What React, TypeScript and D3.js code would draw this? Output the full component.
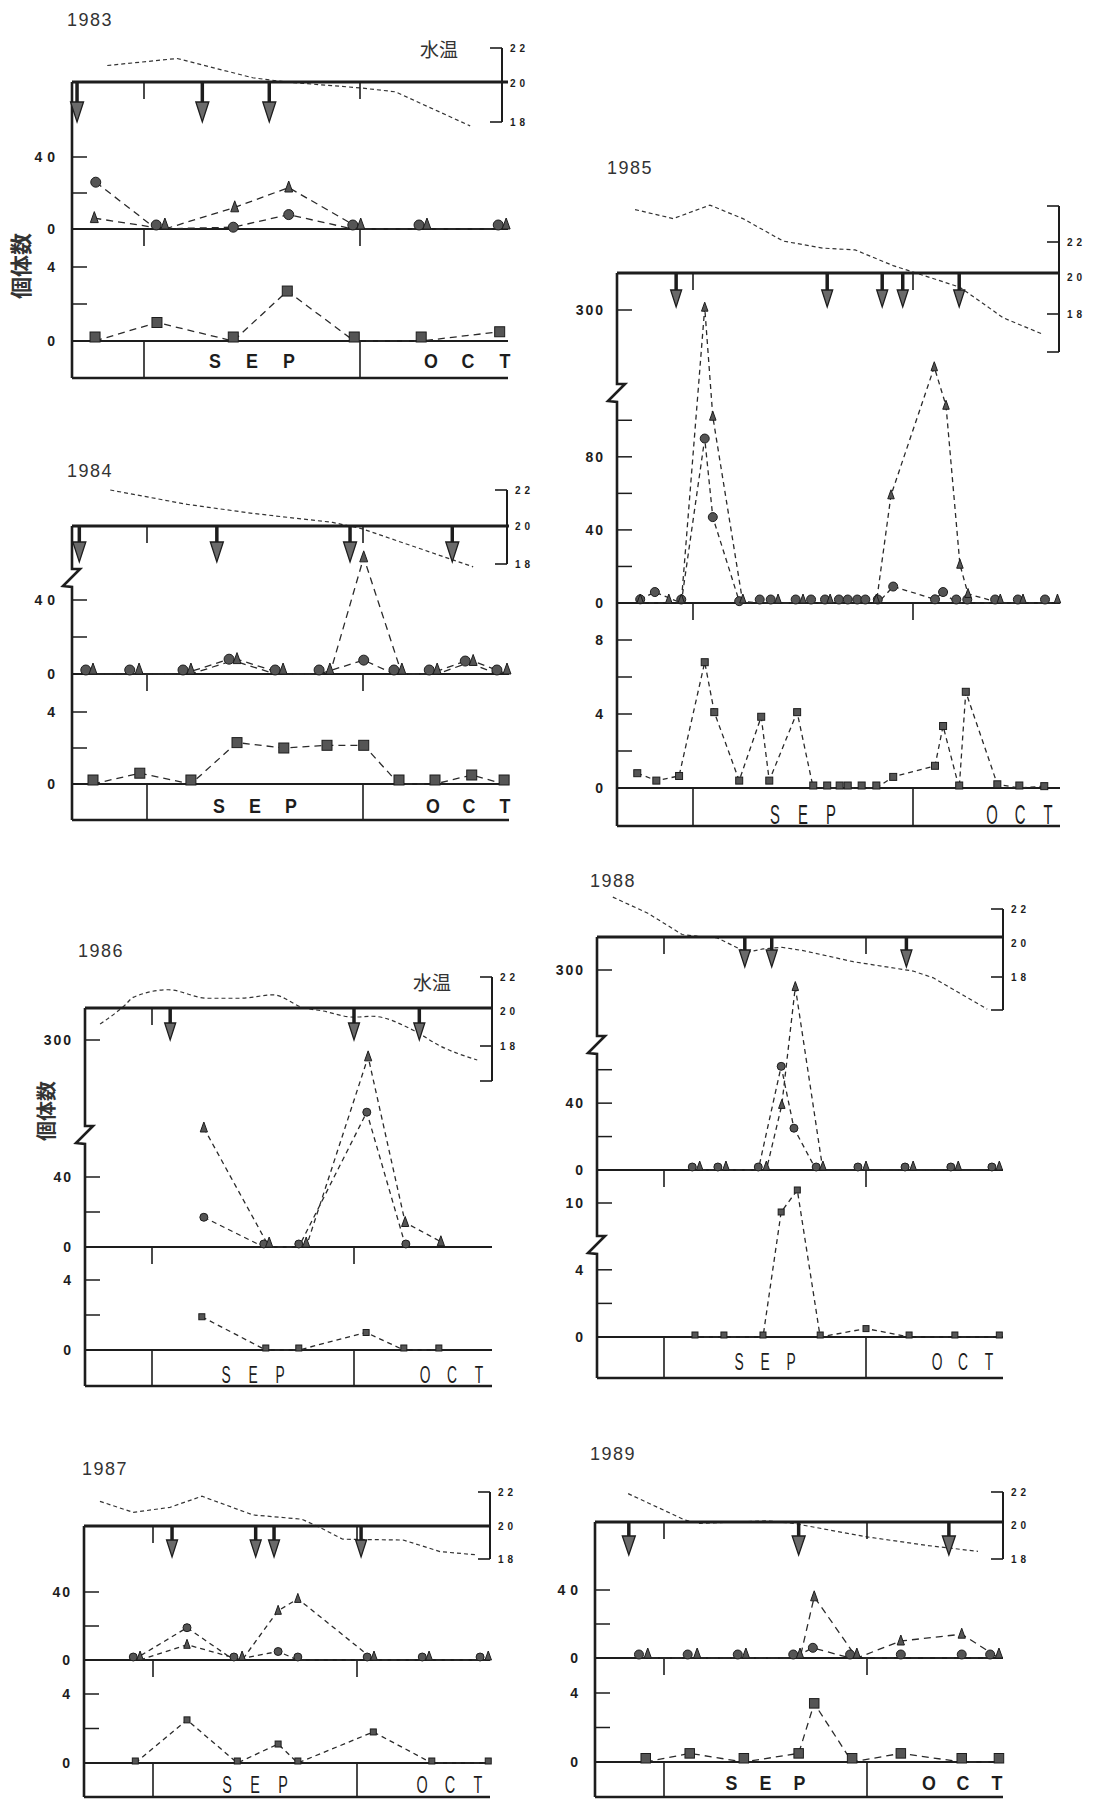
import React from "react";
import * as d3 from "d3";

type Pt = [number, number];

// Shared labels
const MONTHS = ["SEP", "OCT"];
const TEMP_LABELS = [22, 20, 18];
const COUNT_LABEL = "個体数";
const WATER_LABEL = "水温";

// Days are counted from 1 September (0) ; 30 = 1 October.

// ---------- 1983 ----------
const temp83Days = [-5.1, 4.6, 15.1, 19.9, 30, 34.9, 45.3];
const temp83 = [21.0, 21.4, 20.3, 20.05, 19.75, 19.55, 17.8];
const arrows83 = [-9.3, 8.1, 17.4];
const circleDays83 = [-6.7, 1.7, 12.4, 20.1, 29, 38.2, 49.2];
const circles83 = [26, 0, 1, 8, 0, 0, 0];
const triangleDays83 = [-6.9, 2.9, 12.6, 20.1, 30.1, 39.3, 50.3];
const triangles83 = [6, 0, 12, 23, 0, 0, 0];
const squareDays83 = [-6.8, 1.8, 12.4, 19.9, 29.2, 38.5, 49.4];
const squares83 = [0, 1, 0, 2.7, 0, 0, 0.5];

// ---------- 1984 ----------
const temp84Days = [-5.1, 5.6, 14.7, 25.8, 29.9, 45.3];
const temp84 = [22, 21.2, 20.7, 20.2, 19.85, 17.85];
const arrows84 = [-9.4, 9.7, 28.2, 42.4];
const circleDays84 = [-8.5, -2.4, 5, 11.4, 17.8, 23.9, 30.1, 34.3, 39.2, 44.2, 48.6];
const circles84 = [0, 0, 0, 8, 0, 0, 7.5, 0, 0, 7, 0];
const triangleDays84 = [-7.5, -1.1, 6.1, 12.5, 18.9, 25.4, 30.1, 35.4, 40.3, 45.3, 50];
const triangles84 = [0, 0, 0, 8, 0, 0, 63, 0, 0, 7, 0];
const squareDays84 = [-7.5, -1, 6.1, 12.5, 19, 25, 30.1, 35, 40, 45.1, 49.6];
const squares84 = [0, 0.6, 0, 2.3, 2.0, 2.15, 2.15, 0, 0, 0.5, 0];

// ---------- 1985 ----------
const temp85Days = [-7.9, -2.7, 2.3, 6.8, 12.3, 17.7, 22.1, 27.3, 30.6, 36.4, 42.3, 47.6];
const temp85 = [23.8, 23.3, 24.05, 23.3, 22.05, 21.65, 21.55, 20.65, 20.2, 19.45, 17.8, 16.95];
const arrows85 = [-2.3, 18.3, 25.8, 28.6, 36.3];
const circleDays85 = [-7.2, -5.2, -1.6, 1.6, 2.7, 6.3, 9.1, 10.6, 14, 16.1, 18, 19.9, 21.1, 22.4, 23.5, 25.2, 27.3, 33, 34.1, 35.9, 37.4, 41.2, 44.3, 48];
const circles85 = [2, 6, 0, 90, 47, 1, 0, 0, 0, 0, 0, 0, 0, 0, 0, 0, 9, 2, 6, 0, 0, 0, 0, 0];
const triangleDays85 = [-7.2, -3.3, -1.6, 1.6, 2.7, 6.8, 11.6, 15, 18.7, 25, 27, 32.9, 34.5, 36.4, 37.5, 41.9, 45, 49.7];
const triangles85 = [0, 0, 0, 305, 102, 0, 0, 0, 0, 0, 59, 182, 108, 21, 5, 0, 0, 0];
const squareDays85 = [-7.6, -5, -1.9, 1.6, 2.9, 6.3, 9.3, 10.4, 14.2, 16.4, 18.3, 20, 21.1, 23, 25, 27.3, 33, 34.1, 36.3, 37.2, 41.5, 44.5, 47.9];
const squares85 = [0.8, 0.4, 0.65, 6.8, 4.1, 0.4, 3.85, 0.4, 4.1, 0, 0, 0, 0, 0, 0, 0.6, 1.2, 3.35, 0, 5.2, 0.2, 0, 0.1];

// ---------- 1986 ----------
const temp86Days = [-7.7, -4, -2.8, 2.4, 8.2, 13.1, 18, 22.4, 25.4, 29.9, 32.7, 38.8, 42.8, 48.3];
const temp86 = [19.25, 20.35, 20.8, 21.25, 20.75, 20.75, 20.95, 20.2, 20, 19.65, 19.7, 18.9, 18, 17.2];
const arrows86 = [2.7, 30, 39.7];
const circleDays86 = [7.7, 16.6, 21.8, 31.9, 37.7];
const circles86 = [17, 0, 0, 163, 0];
const triangleDays86 = [7.7, 17.4, 22.9, 32.1, 37.6, 42.9];
const triangles86 = [133, 0, 0, 268, 14, 3];
const squareDays86 = [7.4, 16.9, 21.8, 31.8, 37.4, 42.6];
const squares86 = [1.9, 0, 0, 1.0, 0, 0];

// ---------- 1987 ----------
const temp87Days = [-7.8, -2.9, 2.5, 7.2, 14.7, 21.9, 24.6, 27.9, 36.8, 42.2, 47.6];
const temp87 = [21.45, 20.8, 21.1, 21.75, 20.65, 20.4, 19.9, 19.2, 19.15, 18.45, 18.25];
const arrows87 = [2.8, 15.1, 17.8, 30.6];
const circleDays87 = [-2.9, 5, 11.9, 18.4, 21.3, 31.5, 39.6, 48.1];
const circles87 = [0, 19, 0, 5, 0, 0, 0, 0];
const triangleDays87 = [-1.9, 5, 13.1, 18.4, 21.3, 32.5, 40.6, 49.3];
const triangles87 = [0, 9, 0, 29, 36, 0, 0, 0];
const squareDays87 = [-2.6, 5, 12.4, 18.4, 21.3, 32.4, 41, 49.3];
const squares87 = [0, 2.5, 0, 1.1, 0, 1.8, 0, 0];

// ---------- 1988 ----------
const temp88Days = [-7.6, -2.4, 2.7, 4.9, 7.9, 12.3, 14.7, 17.5, 20.7, 28.1, 37, 40, 48];
const temp88 = [22.7, 21.75, 20.5, 20.4, 20.3, 19.45, 19.65, 19.75, 19.55, 18.9, 18.35, 17.95, 16.05];
const arrows88 = [12, 16, 36];
const circleDays88 = [4.2, 8, 14, 17.4, 19.3, 22.6, 28.8, 35.8, 42.6, 48.7];
const circles88 = [0, 0, 0, 62, 25, 0, 0, 0, 0, 0];
const triangleDays88 = [5.3, 9.2, 15.2, 17.5, 19.5, 23.6, 30, 37, 43.7, 49.8];
const triangles88 = [0, 0, 0, 39, 253, 0, 0, 0, 0, 0];
const squareDays88 = [4.6, 8.9, 14.7, 17.4, 19.8, 23.2, 30, 36.4, 43.2, 49.8];
const squares88 = [0, 0, 0, 9.1, 11.3, 0, 0.5, 0, 0, 0];

// ---------- 1989 ----------
const temp89Days = [-5.3, 3.1, 5.3, 15.2, 19.1, 30, 38.8, 46.4];
const temp89 = [21.9, 20.3, 20.1, 20.25, 20.1, 19.3, 18.8, 18.45];
const arrows89 = [-5.2, 19.9, 42.1];
const circleDays89 = [-3.7, 3.5, 10.9, 19.1, 22, 27.5, 35, 44, 48.2];
const circles89 = [0, 0, 0, 0, 6, 0, 0, 0, 0];
const triangleDays89 = [-2.4, 4.9, 12.1, 20.1, 22.2, 28.5, 35, 44, 49.5];
const triangles89 = [0, 0, 0, 0, 36, 0, 10, 14, 0];
const squareDays89 = [-2.7, 3.8, 11.8, 19.9, 22.2, 27.8, 35, 44, 49.5];
const squares89 = [0, 0.5, 0, 0.5, 3.4, 0, 0.5, 0, 0];

interface AxisSpec {
  domain: number[];
  range: number[];
  ticks: number[];
  labels: number[];
  breakY?: number;
}

interface PanelSpec {
  year: string;
  titleX: number;
  titleY: number;
  x0: number;
  x1: number;
  sepX: number;
  octX: number;
  topY: number;
  upper: AxisSpec;
  lower: AxisSpec;
  barBottom: number;
  temp: { domain: number[]; range: number[]; lo: number; hi: number; x: number };
  tempDays: number[];
  tempValues: number[];
  smooth?: boolean;
  arrows: number[];
  arrowTip: number;
  headW: number;
  headH: number;
  circleDays: number[];
  circles: number[];
  triangleDays: number[];
  triangles: number[];
  squareDays: number[];
  squares: number[];
  bold: boolean;
  monthSize: number;
  monthScale: number;
  monthSpacing: number;
  monthY: number;
  labelSpacing: number;
  circleR: number;
  squareS: number;
  triH: number;
  dash: string;
  water?: [number, number];
  count?: { x: number; y: number; size: number };
}

const panels: PanelSpec[] = [
  {
    year: "1983", titleX: 67, titleY: 26,
    x0: 72, x1: 508, sepX: 144, octX: 360, topY: 82,
    upper: { domain: [0, 40], range: [229, 157], ticks: [20, 40], labels: [0, 40] },
    lower: { domain: [0, 4], range: [341, 267], ticks: [2, 4], labels: [0, 4] },
    barBottom: 378,
    temp: { domain: [18, 20, 22], range: [122, 83, 48], lo: 18, hi: 22, x: 502 },
    tempDays: temp83Days, tempValues: temp83,
    arrows: arrows83, arrowTip: 122, headW: 13, headH: 20,
    circleDays: circleDays83, circles: circles83,
    triangleDays: triangleDays83, triangles: triangles83,
    squareDays: squareDays83, squares: squares83,
    bold: true, monthSize: 21, monthScale: 0.85, monthSpacing: 37, monthY: 368,
    labelSpacing: 5, circleR: 5, squareS: 10, triH: 11, dash: "7,5",
    water: [420, 57], count: { x: 19, y: 266, size: 22 },
  },
  {
    year: "1984", titleX: 67, titleY: 477,
    x0: 72, x1: 509, sepX: 147, octX: 363, topY: 526,
    upper: { domain: [0, 40], range: [674, 600], ticks: [20, 40], labels: [0, 40], breakY: 578 },
    lower: { domain: [0, 4], range: [784, 712], ticks: [2, 4], labels: [0, 4] },
    barBottom: 820,
    temp: { domain: [18, 20, 22], range: [564, 526, 490], lo: 18, hi: 22, x: 507 },
    tempDays: temp84Days, tempValues: temp84,
    arrows: arrows84, arrowTip: 562, headW: 13, headH: 20,
    circleDays: circleDays84, circles: circles84,
    triangleDays: triangleDays84, triangles: triangles84,
    squareDays: squareDays84, squares: squares84,
    bold: true, monthSize: 21, monthScale: 0.85, monthSpacing: 36, monthY: 813,
    labelSpacing: 5, circleR: 5, squareS: 10, triH: 11, dash: "7,5",
  },
  {
    year: "1985", titleX: 607, titleY: 174,
    x0: 617, x1: 1060, sepX: 693, octX: 913, topY: 273,
    upper: { domain: [0, 110, 300], range: [603, 402, 310], ticks: [20, 40, 60, 80, 100, 300], labels: [0, 40, 80, 300], breakY: 393 },
    lower: { domain: [0, 8], range: [788, 640], ticks: [2, 4, 6, 8], labels: [0, 4, 8] },
    barBottom: 826,
    temp: { domain: [16, 18, 20, 22, 24], range: [352, 314, 277, 242, 206], lo: 16, hi: 24, x: 1059 },
    tempDays: temp85Days, tempValues: temp85,
    arrows: arrows85, arrowTip: 307, headW: 11, headH: 17,
    circleDays: circleDays85, circles: circles85,
    triangleDays: triangleDays85, triangles: triangles85,
    squareDays: squareDays85, squares: squares85,
    bold: false, monthSize: 27, monthScale: 0.55, monthSpacing: 28, monthY: 824,
    labelSpacing: 2, circleR: 4.5, squareS: 7, triH: 9, dash: "5,4",
  },
  {
    year: "1986", titleX: 78, titleY: 957,
    x0: 85, x1: 492, sepX: 152, octX: 354, topY: 1008,
    upper: { domain: [0, 40, 300], range: [1247, 1177, 1040], ticks: [20, 40, 300], labels: [0, 40, 300], breakY: 1135 },
    lower: { domain: [0, 4], range: [1350, 1280], ticks: [2, 4], labels: [0, 4] },
    barBottom: 1386,
    temp: { domain: [16, 18, 20, 22], range: [1081, 1046, 1011, 977], lo: 16, hi: 22, x: 492 },
    tempDays: temp86Days, tempValues: temp86, smooth: true,
    arrows: arrows86, arrowTip: 1040, headW: 11, headH: 17,
    circleDays: circleDays86, circles: circles86,
    triangleDays: triangleDays86, triangles: triangles86,
    squareDays: squareDays86, squares: squares86,
    bold: false, monthSize: 23, monthScale: 0.6, monthSpacing: 27, monthY: 1383,
    labelSpacing: 2, circleR: 4, squareS: 6, triH: 10, dash: "5,4",
    water: [413, 990], count: { x: 45, y: 1111, size: 20 },
  },
  {
    year: "1987", titleX: 82, titleY: 1475,
    x0: 84, x1: 490, sepX: 153, octX: 357, topY: 1526,
    upper: { domain: [0, 40], range: [1660, 1592], ticks: [20, 40], labels: [0, 40] },
    lower: { domain: [0, 4], range: [1763, 1694], ticks: [2, 4], labels: [0, 4] },
    barBottom: 1797,
    temp: { domain: [18, 20, 22], range: [1559, 1526, 1492], lo: 18, hi: 22, x: 490 },
    tempDays: temp87Days, tempValues: temp87,
    arrows: arrows87, arrowTip: 1557, headW: 11, headH: 17,
    circleDays: circleDays87, circles: circles87,
    triangleDays: triangleDays87, triangles: triangles87,
    squareDays: squareDays87, squares: squares87,
    bold: false, monthSize: 24, monthScale: 0.6, monthSpacing: 28, monthY: 1793,
    labelSpacing: 2, circleR: 4, squareS: 6, triH: 9, dash: "5,4",
  },
  {
    year: "1988", titleX: 590, titleY: 887,
    x0: 597, x1: 1003, sepX: 664, octX: 866, topY: 937,
    upper: { domain: [0, 70, 300], range: [1170, 1053, 970], ticks: [20, 40, 60, 300], labels: [0, 40, 300], breakY: 1045 },
    lower: { domain: [0, 5, 10], range: [1337, 1253, 1203], ticks: [2, 4, 10], labels: [0, 4, 10], breakY: 1245 },
    barBottom: 1378,
    temp: { domain: [16, 18, 20, 22], range: [1010, 977, 943, 909], lo: 16, hi: 22, x: 1003 },
    tempDays: temp88Days, tempValues: temp88,
    arrows: arrows88, arrowTip: 967, headW: 11, headH: 17,
    circleDays: circleDays88, circles: circles88,
    triangleDays: triangleDays88, triangles: triangles88,
    squareDays: squareDays88, squares: squares88,
    bold: false, monthSize: 23, monthScale: 0.6, monthSpacing: 26, monthY: 1370,
    labelSpacing: 2, circleR: 4, squareS: 6, triH: 9, dash: "5,4",
  },
  {
    year: "1989", titleX: 590, titleY: 1460,
    x0: 595, x1: 1003, sepX: 664, octX: 867, topY: 1522,
    upper: { domain: [0, 40], range: [1658, 1590], ticks: [20, 40], labels: [0, 40] },
    lower: { domain: [0, 4], range: [1762, 1693], ticks: [2, 4], labels: [0, 4] },
    barBottom: 1797,
    temp: { domain: [18, 20, 22], range: [1559, 1525, 1492], lo: 18, hi: 22, x: 1003 },
    tempDays: temp89Days, tempValues: temp89,
    arrows: arrows89, arrowTip: 1555, headW: 13, headH: 19,
    circleDays: circleDays89, circles: circles89,
    triangleDays: triangleDays89, triangles: triangles89,
    squareDays: squareDays89, squares: squares89,
    bold: true, monthSize: 21, monthScale: 0.85, monthSpacing: 34, monthY: 1790,
    labelSpacing: 5, circleR: 4.5, squareS: 9.5, triH: 10, dash: "7,5",
  },
];

const INK = "#1d1d1d";
const MARK_FILL = "#555";
const FONT = "'Liberation Sans', Arial, sans-serif";
const CJK = "'Noto Sans CJK JP', 'Noto Sans CJK SC', sans-serif";

function Panel({ p }: { p: PanelSpec }) {
  const x = d3.scaleLinear().domain([0, 30]).range([p.sepX, p.octX]);
  const yU = d3.scaleLinear().domain(p.upper.domain).range(p.upper.range);
  const yL = d3.scaleLinear().domain(p.lower.domain).range(p.lower.range);
  const yT = d3.scaleLinear().domain(p.temp.domain).range(p.temp.range);
  const zU = yU(0);
  const zL = yL(0);

  const zip = (a: number[], b: number[]): Pt[] => a.map((d, i) => [d, b[i]] as Pt);
  const lineU = d3.line<Pt>().x((d) => x(d[0])).y((d) => yU(d[1]));
  const lineL = d3.line<Pt>().x((d) => x(d[0])).y((d) => yL(d[1]));
  const lineT = d3
    .line<Pt>()
    .x((d) => x(d[0]))
    .y((d) => yT(d[1]))
    .curve(p.smooth ? d3.curveMonotoneX : d3.curveLinear);

  const circ = zip(p.circleDays, p.circles);
  const tri = zip(p.triangleDays, p.triangles);
  const sq = zip(p.squareDays, p.squares);

  // left axis, with a zigzag wherever the scale is broken
  const breaks = [p.upper.breakY, p.lower.breakY].filter((b): b is number => b !== undefined);
  let axisPath = `M${p.x0},${p.topY}`;
  breaks.forEach((b) => {
    axisPath += `L${p.x0},${b - 9}L${p.x0 + 8},${b - 9}L${p.x0 - 9},${b + 8}L${p.x0},${b + 9}`;
  });
  axisPath += `L${p.x0},${p.barBottom}`;

  const tickLen = 15;
  const monthCenters = [(p.sepX + p.octX) / 2, p.x1 - 40];
  const triW = p.triH * 0.72;

  const bracketTicks = Array.from(new Set([p.temp.lo, p.temp.hi, 22, 18]));

  return (
    <g>
      {/* year */}
      <text x={p.titleX} y={p.titleY} fontFamily={FONT} fontSize={18} letterSpacing={1.5} fill="#333">
        {p.year}
      </text>

      {/* water temperature */}
      <path d={lineT(zip(p.tempDays, p.tempValues)) || ""} fill="none" stroke="#333" strokeWidth={1.2} strokeDasharray="4,3" />
      <line x1={p.temp.x} x2={p.temp.x} y1={yT(p.temp.hi)} y2={yT(p.temp.lo)} stroke={INK} strokeWidth={2} />
      {bracketTicks.map((t) => (
        <line key={`bt${t}`} x1={p.temp.x - 12} x2={p.temp.x} y1={yT(t)} y2={yT(t)} stroke={INK} strokeWidth={1.6} />
      ))}
      {TEMP_LABELS.map((t) => (
        <text key={`tl${t}`} x={p.temp.x + 8} y={yT(t) + 4} fontFamily={FONT} fontSize={10} fontWeight={700} letterSpacing={4} fill={INK}>
          {t}
        </text>
      ))}
      {p.water && (
        <text x={p.water[0]} y={p.water[1]} fontFamily={CJK} fontSize={19} fill="#333">
          {WATER_LABEL}
        </text>
      )}

      {/* frame */}
      <line x1={p.x0} x2={p.x1} y1={p.topY} y2={p.topY} stroke={INK} strokeWidth={2.8} />
      <path d={axisPath} fill="none" stroke={INK} strokeWidth={2.6} />
      <line x1={p.x0} x2={p.x1} y1={zU} y2={zU} stroke={INK} strokeWidth={2} />
      <line x1={p.x0} x2={p.x1} y1={zL} y2={zL} stroke={INK} strokeWidth={2} />
      <line x1={p.x0} x2={p.x1} y1={p.barBottom} y2={p.barBottom} stroke={INK} strokeWidth={2.6} />
      {[0, 30].map((d) => (
        <g key={`m${d}`}>
          <line x1={x(d)} x2={x(d)} y1={p.topY} y2={p.topY + 17} stroke={INK} strokeWidth={1.6} />
          <line x1={x(d)} x2={x(d)} y1={zU} y2={zU + 17} stroke={INK} strokeWidth={1.6} />
          <line x1={x(d)} x2={x(d)} y1={zL} y2={p.barBottom} stroke={INK} strokeWidth={1.6} />
        </g>
      ))}

      {/* month names */}
      {MONTHS.map((m, mi) =>
        m.split("").map((ch, i) => (
          <text
            key={`${m}${i}`}
            transform={`translate(${monthCenters[mi] + (i - 1) * p.monthSpacing},${p.monthY}) scale(${p.monthScale},1)`}
            textAnchor="middle"
            fontFamily={FONT}
            fontSize={p.monthSize}
            fontWeight={p.bold ? 700 : 400}
            fill={INK}
          >
            {ch}
          </text>
        ))
      )}

      {/* y ticks and labels */}
      {p.upper.ticks.map((t) => (
        <line key={`ut${t}`} x1={p.x0} x2={p.x0 + tickLen} y1={yU(t)} y2={yU(t)} stroke={INK} strokeWidth={1.5} />
      ))}
      {p.lower.ticks.map((t) => (
        <line key={`lt${t}`} x1={p.x0} x2={p.x0 + tickLen} y1={yL(t)} y2={yL(t)} stroke={INK} strokeWidth={1.5} />
      ))}
      {p.upper.labels.map((t) => (
        <text key={`ul${t}`} x={p.x0 - 12} y={yU(t) + 5} textAnchor="end" fontFamily={FONT} fontSize={14} fontWeight={700} letterSpacing={p.labelSpacing} fill={INK}>
          {t}
        </text>
      ))}
      {p.lower.labels.map((t) => (
        <text key={`ll${t}`} x={p.x0 - 12} y={yL(t) + 5} textAnchor="end" fontFamily={FONT} fontSize={14} fontWeight={700} letterSpacing={p.labelSpacing} fill={INK}>
          {t}
        </text>
      ))}
      {p.count && (
        <text
          transform={`translate(${p.count.x},${p.count.y}) rotate(-90)`}
          textAnchor="middle"
          dominantBaseline="central"
          fontFamily={CJK}
          fontSize={p.count.size}
          fontWeight={700}
          fill="#333"
        >
          {COUNT_LABEL}
        </text>
      )}

      {/* sampling arrows */}
      {p.arrows.map((d, i) => {
        const ax = x(d);
        const hb = p.arrowTip - p.headH;
        return (
          <g key={`a${i}`}>
            <line x1={ax} x2={ax} y1={p.topY} y2={hb + 1} stroke={INK} strokeWidth={3.5} />
            <path d={`M${ax - p.headW / 2},${hb}L${ax + p.headW / 2},${hb}L${ax},${p.arrowTip}Z`} fill="#6a6a6a" stroke={INK} strokeWidth={1.3} />
          </g>
        );
      })}

      {/* series lines */}
      <path d={lineU(circ) || ""} fill="none" stroke="#2a2a2a" strokeWidth={1.3} strokeDasharray={p.dash} />
      <path d={lineU(tri) || ""} fill="none" stroke="#2a2a2a" strokeWidth={1.3} strokeDasharray={p.dash} />
      <path d={lineL(sq) || ""} fill="none" stroke="#2a2a2a" strokeWidth={1.3} strokeDasharray={p.dash} />

      {/* markers */}
      {circ.map(([d, v], i) => (
        <circle key={`ci${i}`} cx={x(d)} cy={yU(v) - (v === 0 ? p.circleR - 1 : 0)} r={p.circleR} fill={MARK_FILL} stroke={INK} strokeWidth={1} />
      ))}
      {tri.map(([d, v], i) => {
        const cx = x(d);
        const base = v === 0 ? yU(v) : yU(v) + p.triH * 0.4;
        return (
          <path key={`tr${i}`} d={`M${cx},${base - p.triH}L${cx + triW / 2},${base}L${cx - triW / 2},${base}Z`} fill={MARK_FILL} stroke={INK} strokeWidth={1} />
        );
      })}
      {sq.map(([d, v], i) => {
        const cy = yL(v) - (v === 0 ? p.squareS / 2 - 1 : 0);
        return (
          <rect key={`sq${i}`} x={x(d) - p.squareS / 2} y={cy - p.squareS / 2} width={p.squareS} height={p.squareS} fill={MARK_FILL} stroke={INK} strokeWidth={1} />
        );
      })}
    </g>
  );
}

export default function App() {
  return (
    <svg
      width={1093}
      height={1800}
      viewBox="0 0 1093 1800"
      style={{ position: "absolute", left: 0, top: 0, background: "#fff", display: "block" }}
    >
      <rect width={1093} height={1800} fill="#fff" />
      {panels.map((p) => (
        <Panel key={p.year} p={p} />
      ))}
    </svg>
  );
}
